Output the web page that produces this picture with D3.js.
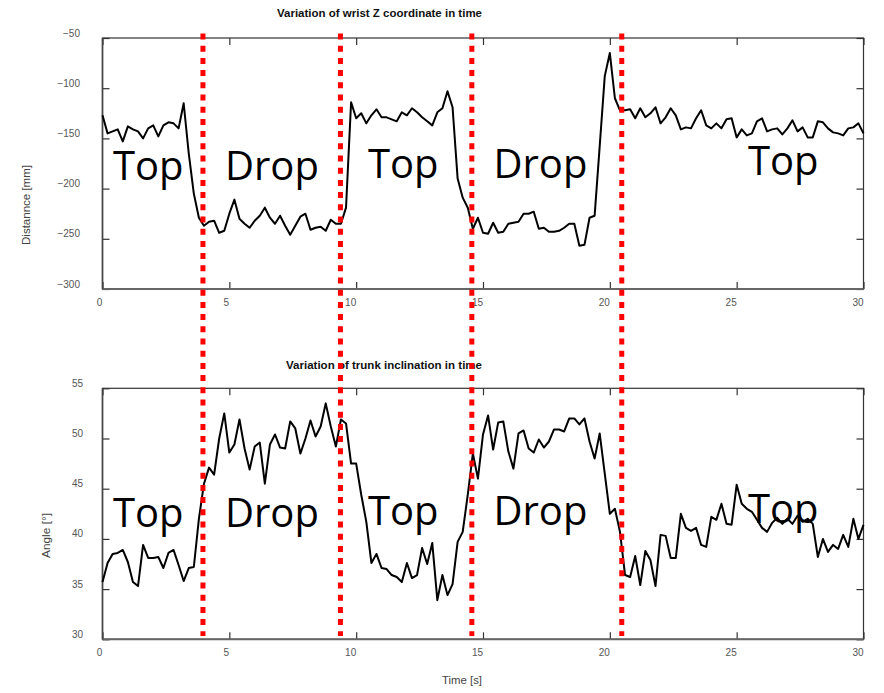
<!DOCTYPE html>
<html><head><meta charset="utf-8">
<script src="https://cdn.jsdelivr.net/npm/d3@7"></script>
<style>body{margin:0;background:#fff;} svg{display:block;}</style>
</head><body>
<svg id="c" width="884" height="693"></svg>
<script>
// ---------------- data ----------------
const sampleStep = 0.2; // seconds between samples
const wristZ = [
 -127,-145,-143,-141,-153,-138,-141,-143,-150,-140,
 -137,-148,-137,-134,-135,-140,-115,-165,-205,-229,
 -237,-233,-232,-244,-242,-225,-211,-230,-235,-239,
 -232,-227,-219,-229,-235,-227,-237,-246,-237,-228,
 -225,-241,-239,-238,-242,-231,-235,-235,-219,-114,
 -130,-125,-135,-127,-121,-129,-129,-131,-133,-124,
 -127,-120,-124,-129,-133,-137,-124,-120,-103,-119,
 -190,-209,-219,-240,-229,-244,-245,-234,-244,-243,
 -235,-234,-233,-225,-225,-223,-240,-239,-243,-243,
 -242,-239,-235,-235,-257,-256,-229,-227,-158,-88,
 -65,-110,-122,-122,-121,-130,-120,-129,-125,-119,
 -135,-129,-120,-127,-141,-139,-140,-130,-122,-137,
 -140,-135,-140,-131,-130,-149,-141,-147,-145,-133,
 -130,-143,-141,-140,-146,-140,-132,-143,-139,-149,
 -149,-133,-134,-140,-144,-145,-147,-140,-139,-135,
 -145
];
const trunkAngle = [
 35.7,37.6,38.5,38.6,38.9,37.7,35.7,35.3,39.4,38.1,
 38.1,38.2,37.1,38.6,38.9,37.4,35.8,37.1,37.2,42.0,
 45.5,47.1,46.4,50.0,52.5,48.6,49.4,51.9,49.0,46.9,
 49.2,49.6,45.5,49.4,50.4,49.1,49.0,51.7,51.0,48.5,
 50.0,51.8,50.2,51.2,53.5,51.2,49.2,51.9,51.5,47.5,
 47.5,44.4,41.7,37.6,38.5,37.1,37.0,36.4,36.2,35.7,
 37.6,36.1,36.4,39.1,37.5,39.6,33.9,36.4,34.4,35.5,
 39.7,40.7,44.4,48.5,46.0,50.4,52.3,48.9,51.6,51.7,
 48.7,47.0,50.5,50.8,49.0,48.6,49.9,49.1,49.7,50.9,
 50.9,50.7,52.0,52.0,51.4,52.0,49.7,48.0,50.5,46.5,
 42.5,43.0,40.7,36.4,36.2,38.3,35.4,38.8,37.9,35.3,
 40.4,40.3,38.1,38.1,42.5,41.1,40.8,41.1,39.4,39.2,
 42.2,41.9,43.5,41.5,41.4,45.4,43.5,43.0,42.7,41.9,
 41.1,40.7,41.6,42.1,41.5,42.0,41.5,42.3,41.7,42.0,
 41.5,38.2,40.0,38.7,39.4,39.0,40.4,39.2,42.0,40.0,
 41.4
];
const phaseBoundaries = [3.96, 9.38, 14.56, 20.47];
const phaseNames = ["Top", "Drop", "Top", "Drop", "Top"];
const xTicks = [0, 5, 10, 15, 20, 25, 30];
const yTicksTop = [-300, -250, -200, -150, -100, -50];
const yTicksBottom = [30, 35, 40, 45, 50, 55];
const titleTop = "Variation of wrist Z coordinate in time";
const titleBottom = "Variation of trunk inclination in time";
const yLabelTop = "Distannce [mm]";
const yLabelBottom = "Angle [°]";
const xLabel = "Time [s]";

// ---------------- layout ----------------
const svg = d3.select("#c");
const X0 = 102.5, X1 = 863.5;
const x = d3.scaleLinear().domain([0, 30]).range([X0, X1]);
const panels = [
  {data: wristZ, domain: [-300, -50], top: 38, bottom: 289, ticks: yTicksTop, labelEnd: 80,
   title: titleTop, titleX: 277, titleY: 16.7, titleLen: 205,
   ylab: yLabelTop, ylabX: 29.5, ylabY: 205, ylabLen: 80,
   textBase: [180, 180, 178, 178, 175]},
  {data: trunkAngle, domain: [30, 55], top: 388.3, bottom: 639.3, ticks: yTicksBottom, labelEnd: 83,
   title: titleBottom, titleX: 286, titleY: 369.3, titleLen: 196,
   ylab: yLabelBottom, ylabX: 50, ylabY: 535.5, ylabLen: 45,
   textBase: [526.5, 526.5, 525, 525, 523.3]}
];
const textLeft = [113, 225, 368, 493.5, 748];
const font = "'Liberation Sans', Arial, sans-serif";

panels.forEach(p => {
  const y = d3.scaleLinear().domain(p.domain).range([p.bottom, p.top]);
  const g = svg.append("g");

  // title
  g.append("text").attr("x", p.titleX).attr("y", p.titleY)
    .attr("font-family", font).attr("font-weight", "bold").attr("font-size", 10.5)
    .attr("textLength", p.titleLen).attr("lengthAdjust", "spacingAndGlyphs")
    .attr("fill", "#111").text(p.title);

  // y label
  g.append("text").attr("transform", `translate(${p.ylabX},${p.ylabY}) rotate(-90)`)
    .attr("text-anchor", "middle").attr("font-family", font).attr("font-size", 10.5)
    .attr("textLength", p.ylabLen).attr("lengthAdjust", "spacingAndGlyphs")
    .attr("fill", "#444").text(p.ylab);

  // axes
  const ax = g.append("g").attr("transform", `translate(0,${p.bottom})`)
    .call(d3.axisBottom(x).tickValues(xTicks).tickSize(-7).tickPadding(10).tickFormat(d3.format("d")));
  ax.selectAll("text").attr("dx", d => (String(d).length > 1 ? -6 : -3.5));
  const axT = g.append("g").attr("transform", `translate(0,${p.top})`)
    .call(d3.axisTop(x).tickValues(xTicks).tickSize(-7).tickFormat(""));
  const ayL = g.append("g").attr("transform", `translate(${X0},0)`)
    .call(d3.axisLeft(y).tickValues(p.ticks).tickSize(-7).tickPadding(X0 - p.labelEnd).tickFormat(d3.format("d")));
  ayL.selectAll("text").attr("dy", "-0.2em");
  const ayR = g.append("g").attr("transform", `translate(${X1},0)`)
    .call(d3.axisRight(y).tickValues(p.ticks).tickSize(-7).tickFormat(""));
  [ax, axT, ayL, ayR].forEach(a => {
    a.select(".domain").remove();
    a.selectAll("line").attr("stroke", "#333").attr("stroke-width", 1.2);
    a.selectAll("text").attr("font-family", font).attr("font-size", 10).attr("fill", "#555");
  });

  // frame
  g.append("rect").attr("x", X0).attr("y", p.top).attr("width", X1 - X0).attr("height", p.bottom - p.top)
    .attr("fill", "none").attr("stroke", "#333").attr("stroke-width", 1.2);
  g.append("line").attr("x1", X0).attr("x2", X1).attr("y1", p.bottom).attr("y2", p.bottom)
    .attr("stroke", "#666").attr("stroke-width", 2);
  g.append("line").attr("x1", X0).attr("x2", X0).attr("y1", p.top).attr("y2", p.bottom)
    .attr("stroke", "#444").attr("stroke-width", 1.6);

  // data line
  const line = d3.line().x((d, i) => x(i * sampleStep)).y(d => y(d));
  g.append("path").datum(p.data).attr("d", line)
    .attr("fill", "none").attr("stroke", "#000").attr("stroke-width", 2)
    .attr("stroke-linejoin", "round");

  // phase labels
  phaseNames.forEach((name, i) => {
    g.append("text").attr("x", textLeft[i]).attr("y", p.textBase[i])
      .attr("font-family", "'Open Sans', sans-serif").attr("font-size", 40)
      .attr("fill", "#000").text(name);
  });
});

// x axis label
svg.append("text").attr("x", 442).attr("y", 684)
  .attr("font-family", font).attr("font-size", 10.5)
  .attr("textLength", 40).attr("lengthAdjust", "spacingAndGlyphs")
  .attr("fill", "#444").text(xLabel);

// red dotted phase boundaries
svg.append("g").selectAll("line").data(phaseBoundaries).join("line")
  .attr("x1", d => x(d)).attr("x2", d => x(d))
  .attr("y1", 33.5).attr("y2", 636)
  .attr("stroke", "#ff0000").attr("stroke-width", 5)
  .attr("stroke-dasharray", "6,6.2");
</script>
</body></html>
